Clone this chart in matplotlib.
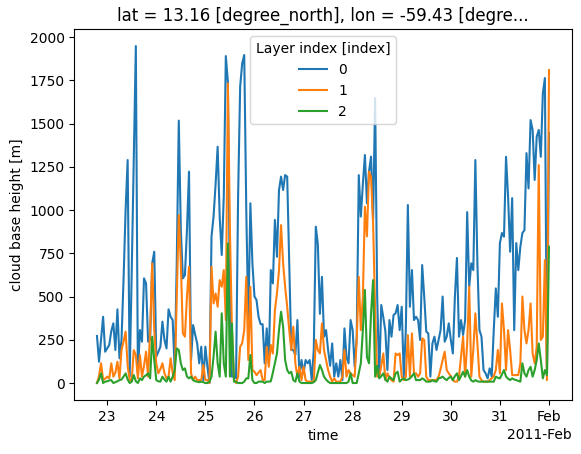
import matplotlib
matplotlib.use("Agg")
import matplotlib.pyplot as plt
import matplotlib.dates as mdates
import numpy as np
import pandas as pd

start_time = "2011-01-22 19:00"
layer_labels = ["0", "1", "2"]

# cloud base height [m], hourly, layer 0
layer0 = [
    272, 123, 250, 383, 181, 200, 220, 300, 345, 191,
    426, 143, 249, 600, 1000, 1289, 37, 650, 1300, 1948,
    56, 306, 239, 605, 576, 239, 250, 692, 759, 152,
    180, 210, 355, 250, 200, 426, 383, 364, 80, 692,
    1517, 885, 605, 624, 885, 1222, 133, 335, 280, 229,
    114, 210, 17, 210, 94, 0, 846, 962, 1150, 1366,
    962, 740, 1077, 1890, 1742, 500, 37, 37, 27, 1077,
    1713, 1848, 1896, 1000, 345, 1039, 692, 500, 480, 383,
    340, 340, 114, 316, 114, 653, 576, 943, 730, 1116,
    1193, 1116, 1202, 1193, 700, 191, 191, 162, 364, 37,
    133, 56, 133, 114, 133, 17, 191, 904, 800, 400,
    614, 268, 306, 191, 100, 229, 37, 114, 37, 133,
    17, 316, 150, 114, 364, 306, 94, 268, 1202, 962,
    1150, 1318, 1039, 1222, 1309, 943, 1647, 500, 37, 451,
    380, 300, 75, 364, 268, 393, 403, 451, 306, 441,
    37, 306, 1029, 441, 653, 364, 383, 364, 249, 682,
    500, 297, 287, 37, 229, 268, 191, 250, 306, 500,
    239, 268, 345, 250, 171, 500, 723, 268, 364, 278,
    364, 988, 557, 692, 653, 1289, 692, 306, 268, 75,
    56, 27, 85, 37, 306, 547, 383, 809, 867, 846,
    1308, 1077, 759, 1069, 306, 809, 653, 788, 867, 884,
    1329, 1125, 1520, 1463, 1174, 1424, 1463, 1308, 1675, 1763,
    40, 1445,
]

# layer 1
layer1 = [
    0, 40, 114, 17, 25, 37, 27, 114, 37, 60,
    123, 27, 191, 240, 297, 100, 17, 17, 190, 162,
    27, 162, 37, 100, 181, 37, 306, 692, 306, 114,
    56, 80, 114, 56, 27, 37, 143, 60, 17, 500,
    971, 692, 287, 268, 500, 672, 56, 17, 37, 17,
    17, 17, 104, 17, 17, 0, 672, 460, 518, 441,
    595, 557, 653, 364, 1732, 884, 300, 17, 0, 37,
    210, 230, 306, 614, 133, 557, 75, 65, 46, 60,
    75, 17, 17, 210, 94, 220, 171, 422, 518, 653,
    913, 692, 557, 441, 306, 191, 326, 114, 37, 94,
    17, 94, 17, 8, 8, 8, 8, 249, 191, 171,
    345, 191, 133, 75, 37, 8, 27, 8, 8, 8,
    37, 191, 37, 75, 56, 46, 37, 249, 614, 306,
    500, 1019, 848, 1222, 1193, 924, 422, 37, 37, 100,
    171, 17, 56, 30, 17, 8, 171, 162, 171, 37,
    17, 37, 277, 37, 287, 56, 56, 37, 56, 258,
    249, 37, 17, 17, 17, 17, 17, 37, 80, 133,
    181, 75, 56, 40, 17, 8, 8, 37, 150, 268,
    37, 229, 557, 37, 191, 403, 229, 37, 17, 8,
    8, 8, 17, 27, 40, 75, 191, 56, 460, 306,
    75, 306, 191, 46, 46, 46, 46, 114, 500, 306,
    229, 306, 460, 171, 114, 210, 1260, 249, 268, 711,
    17, 1809,
]

# layer 2
layer2 = [
    0, 20, 56, 0, 8, 10, 15, 17, 0, 5,
    10, 17, 20, 37, 56, 20, 0, 8, 46, 10,
    0, 27, 17, 37, 45, 56, 27, 268, 133, 17,
    10, 8, 37, 20, 8, 37, 8, 37, 75, 200,
    191, 114, 75, 85, 37, 27, 37, 17, 10, 8,
    5, 8, 5, 0, 0, 8, 37, 152, 297, 114,
    37, 403, 114, 37, 807, 37, 345, 8, 8, 0,
    0, 0, 8, 27, 27, 162, 17, 0, 0, 8,
    8, 8, 0, 8, 8, 10, 60, 114, 171, 306,
    412, 326, 133, 75, 56, 65, 17, 8, 56, 8,
    0, 0, 0, 0, 0, 0, 5, 17, 60, 104,
    75, 37, 20, 8, 0, 0, 0, 0, 0, 0,
    0, 0, 0, 8, 56, 0, 0, 0, 56, 114,
    306, 538, 150, 114, 403, 595, 37, 100, 27, 40,
    56, 20, 8, 37, 25, 17, 56, 65, 8, 20,
    27, 17, 20, 27, 40, 56, 17, 17, 17, 27,
    20, 8, 8, 8, 17, 10, 8, 27, 30, 37,
    25, 17, 30, 37, 17, 40, 56, 17, 40, 65,
    37, 75, 37, 15, 8, 17, 10, 8, 8, 8,
    8, 8, 8, 8, 8, 37, 30, 27, 50, 75,
    37, 25, 17, 27, 20, 17, 12, 8, 114, 56,
    37, 75, 94, 37, 75, 133, 229, 133, 27, 75,
    46, 788,
]

times = pd.date_range(start_time, periods=len(layer0), freq="h")

fig = plt.figure(figsize=(5.81, 4.54), dpi=100)
ax = fig.add_axes([0.128, 0.1192, 0.8558, 0.8165])

for vals, lab in zip([layer0, layer1, layer2], layer_labels):
    ax.plot(times, vals, label=lab, lw=1.5)

locator = mdates.AutoDateLocator()
ax.xaxis.set_major_locator(locator)
ax.xaxis.set_major_formatter(mdates.ConciseDateFormatter(locator))

ax.set_xlabel("time")
ax.set_ylabel("cloud base height [m]")
ax.set_title("lat = 13.16 [degree_north], lon = -59.43 [degre...")
ax.legend(title="Layer index [index]", loc="upper center")

fig.savefig("out.png", dpi=100)
